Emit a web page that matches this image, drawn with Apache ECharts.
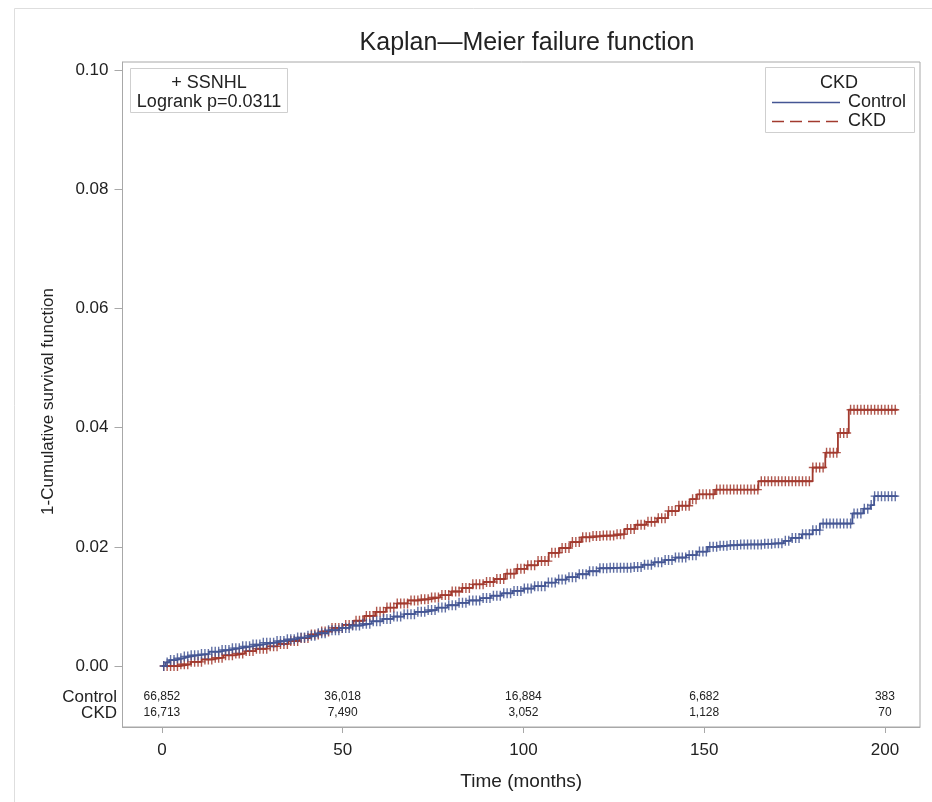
<!DOCTYPE html>
<html>
<head>
<meta charset="utf-8">
<script src="https://cdn.jsdelivr.net/npm/echarts@6/dist/echarts.min.js"></script>
<style>
html,body{margin:0;padding:0;background:#fff;}
#c{width:932px;height:802px;}
</style>
</head>
<body>
<div id="c"></div>
<script>
// ---- data ----
const controlTimes = [0,1,2,4,6,8,10,13,16,19,22,25,28,31,34,37,40,43,46,49,52,55,58,61,64,67,70,73,76,79,82,85,88,91,94,97,100,103,106,109,112,115,118,121,124,127,130,133,136,139,142,145,148,151,154,157,160,163,166,169,172,174,177,180,182,191,194,196,197,203.5];
const controlValues = [0,0.0006,0.0010,0.0013,0.0016,0.0018,0.0020,0.0024,0.0027,0.0030,0.0033,0.0036,0.0039,0.0042,0.0045,0.0048,0.0051,0.0055,0.0060,0.0064,0.0068,0.0071,0.0075,0.0079,0.0083,0.0087,0.0091,0.0094,0.0098,0.0102,0.0106,0.0110,0.0114,0.0118,0.0122,0.0126,0.0130,0.0134,0.0140,0.0145,0.0149,0.0154,0.0159,0.0164,0.0165,0.0165,0.0166,0.0170,0.0174,0.0178,0.0182,0.0186,0.0192,0.0200,0.0202,0.0203,0.0204,0.0204,0.0205,0.0206,0.0210,0.0215,0.0221,0.0228,0.0239,0.0256,0.0264,0.0270,0.0285,0.0285];
const ckdTimes = [0,3,5,8,11,14,17,20,23,26,29,32,35,38,41,44,47,50,53,56,59,62,65,68,71,74,77,80,83,86,89,92,95,98,101,104,107,110,113,116,119,122,125,128,131,134,137,140,143,146,148,153,165,180,183.5,187,190,203.5];
const ckdValues = [0,0,0.0003,0.0007,0.0011,0.0014,0.0018,0.0021,0.0025,0.0029,0.0033,0.0037,0.0042,0.0047,0.0053,0.0058,0.0064,0.0069,0.0076,0.0084,0.0091,0.0098,0.0105,0.0110,0.0112,0.0115,0.0119,0.0125,0.0131,0.0137,0.0141,0.0146,0.0155,0.0163,0.0169,0.0176,0.0190,0.0198,0.0208,0.0216,0.0218,0.0219,0.0221,0.0230,0.0237,0.0242,0.0248,0.0260,0.0269,0.0280,0.0288,0.0296,0.0310,0.0333,0.0358,0.0391,0.0430,0.0430];
const riskTimes = [0,50,100,150,200];
const controlAtRisk = [66852,36018,16884,6682,383];
const ckdAtRisk = [16713,7490,3052,1128,70];
const xTicks = [0,50,100,150,200];
const yTicks = [0,0.02,0.04,0.06,0.08,0.10];
const censorSpacing = 0.95; // months between censoring marks drawn on each curve

// ---- helpers ----
const FONT = "'Liberation Sans', Arial, sans-serif";
const TXT = '#222';
const BLUE = '#445694';
const RED = '#A23A2E';
const FRAME = '#a8a8a8';
function pairs(t, v){ return t.map((x,i)=>[x, v[i]]); }
function stepValue(t, v, x){ let r = v[0]; for (let i=0;i<t.length;i++){ if (t[i] <= x) r = v[i]; } return r; }
function censorMarks(t, v){
  const out = []; const end = t[t.length-1];
  for (let x = 0.5; x <= end; x += censorSpacing) out.push([x, stepValue(t, v, x)]);
  return out;
}
const plusPath = 'path://M3.3,0 H4.7 V10 H3.3 Z M0,4.3 H8 V5.7 H0 Z';

const chart = echarts.init(document.getElementById('c'));

function baseGraphics(){
  return [
    {type:'rect', shape:{x:14.5,y:8.5,width:940,height:820}, style:{fill:'none', stroke:'#dedede', lineWidth:1}, silent:true},
    // inset box
    {type:'rect', shape:{x:130.5,y:68.5,width:157,height:44}, style:{fill:'#fff', stroke:'#cfcfcf', lineWidth:1}, z:10},
    {type:'text', x:209, y:83, style:{text:'+ SSNHL', font:'18px '+FONT, fill:TXT, align:'center', verticalAlign:'middle'}, z:11},
    {type:'text', x:209, y:102, style:{text:'Logrank p=0.0311', font:'18px '+FONT, fill:TXT, align:'center', verticalAlign:'middle'}, z:11},
    // legend box
    {type:'rect', shape:{x:765.5,y:67.5,width:149,height:65}, style:{fill:'#fff', stroke:'#cfcfcf', lineWidth:1}, z:10},
    {type:'text', x:839, y:83, style:{text:'CKD', font:'18px '+FONT, fill:TXT, align:'center', verticalAlign:'middle'}, z:11},
    {type:'line', shape:{x1:772,y1:102.5,x2:840,y2:102.5}, style:{stroke:BLUE, lineWidth:1.5}, z:11},
    {type:'text', x:848, y:102, style:{text:'Control', font:'18px '+FONT, fill:TXT, align:'left', verticalAlign:'middle'}, z:11},
    {type:'line', shape:{x1:772,y1:121.5,x2:840,y2:121.5}, style:{stroke:RED, lineWidth:1.5, lineDash:[12,6]}, z:11},
    {type:'text', x:848, y:121, style:{text:'CKD', font:'18px '+FONT, fill:TXT, align:'left', verticalAlign:'middle'}, z:11},
    // at-risk row labels
    {type:'text', x:117, y:697, style:{text:'Control', font:'17px '+FONT, fill:TXT, align:'right', verticalAlign:'middle'}},
    {type:'text', x:117, y:713, style:{text:'CKD', font:'17px '+FONT, fill:TXT, align:'right', verticalAlign:'middle'}}
  ];
}

function buildOption(extraGraphics){
  return {
    animation:false,
    backgroundColor:'#fff',
    title:{text:'Kaplan\u2014Meier failure function', left:522, top:26, textAlign:'center',
      textStyle:{fontSize:25, fontWeight:'normal', color:TXT, fontFamily:FONT}},
    grid:{left:122.5, right:12, top:62, bottom:75, show:true, borderColor:FRAME, borderWidth:1, containLabel:false},
    xAxis:{type:'value', min:-10.9, max:209.7,
      name:'Time (months)', nameLocation:'middle', nameGap:45,
      nameTextStyle:{fontSize:19, color:TXT, fontFamily:FONT},
      axisLine:{show:true, onZero:false, lineStyle:{color:FRAME}},
      axisTick:{show:true, length:6, lineStyle:{color:FRAME}, customValues:xTicks},
      axisLabel:{customValues:xTicks, fontSize:17, color:TXT, fontFamily:FONT, margin:15},
      splitLine:{show:false}},
    yAxis:{type:'value', min:-0.01023, max:0.10134,
      name:'1-Cumulative survival function', nameLocation:'middle', nameGap:66,
      nameTextStyle:{fontSize:17, color:TXT, fontFamily:FONT, padding:[0,14,0,0]},
      axisLine:{show:true, onZero:false, lineStyle:{color:FRAME}},
      axisTick:{show:true, length:8, lineStyle:{color:FRAME}, customValues:yTicks},
      axisLabel:{customValues:yTicks, fontSize:17, color:TXT, fontFamily:FONT, margin:14,
        formatter:(v)=>v.toFixed(2)},
      splitLine:{show:false}},
    series:[
      {name:'Control', type:'line', step:'end', data:pairs(controlTimes, controlValues), showSymbol:false,
        lineStyle:{color:BLUE, width:1.8}, z:3},
      {name:'CKD', type:'line', step:'end', data:pairs(ckdTimes, ckdValues), showSymbol:false,
        lineStyle:{color:RED, width:1.8}, z:2},
      {name:'Control censored', type:'scatter', data:censorMarks(controlTimes, controlValues), symbol:plusPath,
        symbolSize:[8,10], itemStyle:{color:BLUE, opacity:0.85}, z:3},
      {name:'CKD censored', type:'scatter', data:censorMarks(ckdTimes, ckdValues), symbol:plusPath,
        symbolSize:[8,10], itemStyle:{color:RED, opacity:0.85}, z:2}
    ],
    graphic:baseGraphics().concat(extraGraphics)
  };
}

chart.setOption(buildOption([]));
const riskGraphics = [];
riskTimes.forEach((t,i)=>{
  const px = chart.convertToPixel({xAxisIndex:0}, t);
  riskGraphics.push({type:'text', x:px, y:697, style:{text:controlAtRisk[i].toLocaleString('en-US'), font:'12px '+FONT, fill:TXT, align:'center', verticalAlign:'middle'}});
  riskGraphics.push({type:'text', x:px, y:713, style:{text:ckdAtRisk[i].toLocaleString('en-US'), font:'12px '+FONT, fill:TXT, align:'center', verticalAlign:'middle'}});
});
chart.setOption(buildOption(riskGraphics), true);
</script>
</body>
</html>
